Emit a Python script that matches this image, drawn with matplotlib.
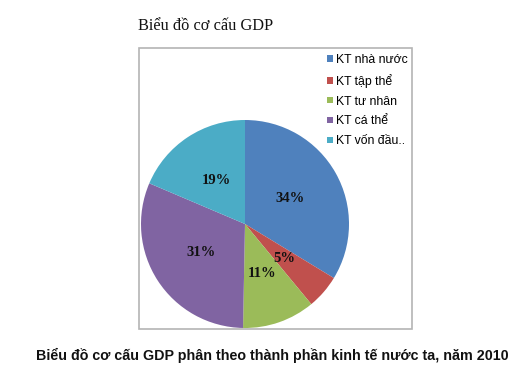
import matplotlib
matplotlib.use("Agg")
import matplotlib.pyplot as plt
from matplotlib.patches import Rectangle

labels = ["KT nhà nước", "KT tập thể", "KT tư nhân", "KT cá thể", "KT vốn đầu.."]
values = [33.7, 5.3, 11.3, 31.1, 18.6]
colors = ["#4F81BD", "#C0504D", "#9BBB59", "#8064A2", "#4BACC6"]
title = "Biểu đồ cơ cấu GDP"
caption = "Biểu đồ cơ cấu GDP phân theo thành phần kinh tế nước ta, năm 2010"

W, H = 514, 366
fig = plt.figure(figsize=(W / 100, H / 100), dpi=100)
fig.patch.set_facecolor("white")

# chart border box
fig.patches.append(Rectangle((139 / W, 1 - 329 / H), (412 - 139) / W, (329 - 48) / H,
                             transform=fig.transFigure, fill=False,
                             edgecolor="#B4B4B4", linewidth=1.2))

cx, cy, r = 245, 224, 104
ax = fig.add_axes([(cx - r) / W, (H - cy - r) / H, 2 * r / W, 2 * r / H])
wedges, texts, autotexts = ax.pie(values, colors=colors, startangle=90, counterclock=False,
                                  autopct="%.0f%%", pctdistance=0.5,
                                  wedgeprops=dict(linewidth=0),
                                  textprops=dict(family="Liberation Serif", fontweight="bold",
                                                 fontsize=10.5, color="#111111"))
ax.set_xlim(-1, 1)
ax.set_ylim(-1, 1)
ax.axis("off")

fig.text(138 / W, 1 - 26 / H, title, family="Liberation Serif", fontsize=11.8,
         ha="left", va="center", color="#111111")

fig.legend(wedges, labels, loc="upper left", bbox_to_anchor=(327 / W, 1 - 54 / H),
           frameon=False, prop=dict(family="Liberation Sans", size=8.8),
           handlelength=0.45, handleheight=0.45, handletextpad=0.3, labelspacing=0.64,
           borderaxespad=0, borderpad=0)

fig.text(272 / W, 1 - 355 / H, caption, family="Liberation Sans", fontweight="bold",
         fontsize=10.3, ha="center", va="center", color="#111111")

fig.savefig("out.png", dpi=100, facecolor="white")
